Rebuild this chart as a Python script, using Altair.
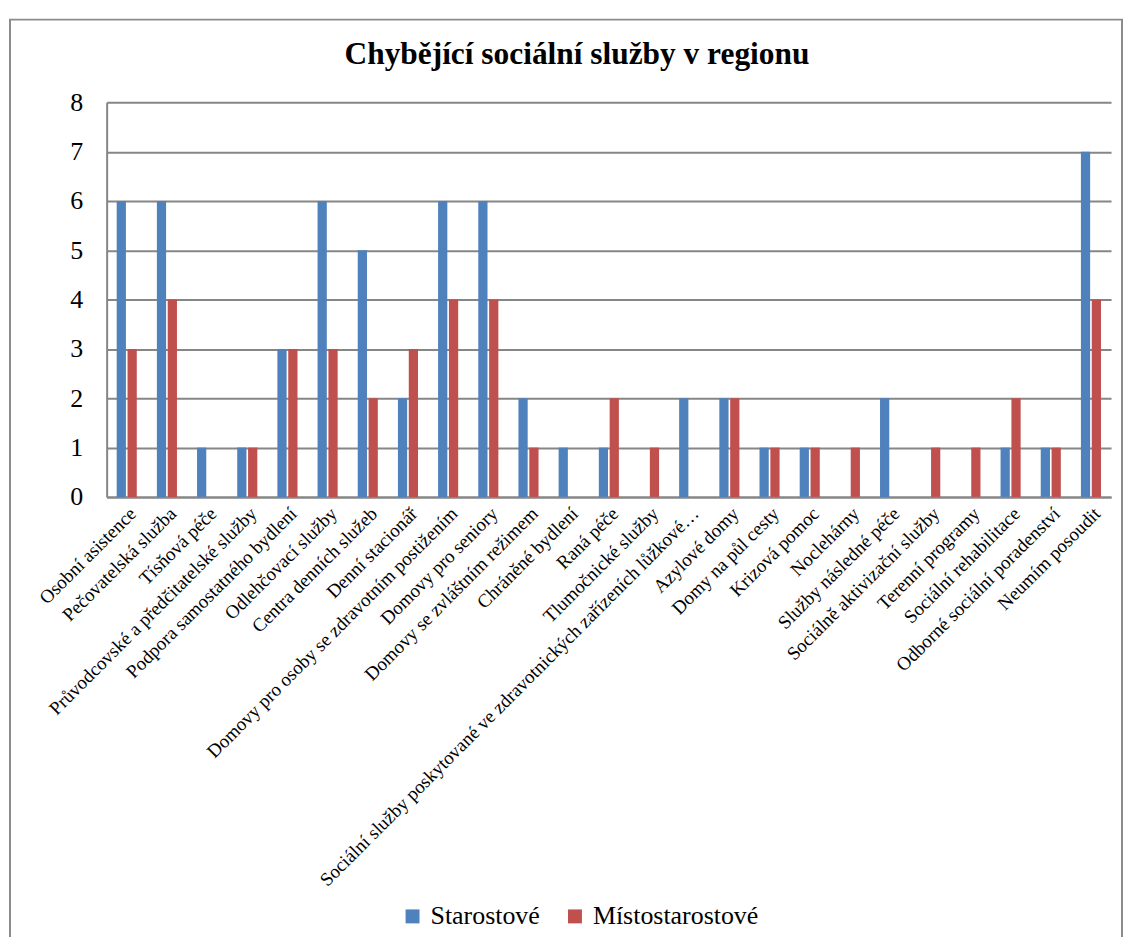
import altair as alt
import pandas as pd

SERIF = "Liberation Serif"
GRID = "#868686"

categories = [
    "Osobní asistence",
    "Pečovatelská služba",
    "Tísňová péče",
    "Průvodcovské a předčitatelské služby",
    "Podpora samostatného bydlení",
    "Odlehčovací služby",
    "Centra denních služeb",
    "Denní stacionář",
    "Domovy pro osoby se zdravotním postižením",
    "Domovy pro seniory",
    "Domovy se zvláštním režimem",
    "Chráněné bydlení",
    "Raná péče",
    "Tlumočnické služby",
    "Sociální služby poskytované ve zdravotnických zařízeních lůžkové…",
    "Azylové domy",
    "Domy na půl cesty",
    "Krizová pomoc",
    "Noclehárny",
    "Služby následné péče",
    "Sociálně aktivizační služby",
    "Terenní programy",
    "Sociální rehabilitace",
    "Odborné sociální poradenství",
    "Neumím posoudit",
]
starostove = [6, 6, 1, 1, 3, 6, 5, 2, 6, 6, 2, 1, 1, 0, 2, 2, 1, 1, 0, 2, 0, 0, 1, 1, 7]
mistostarostove = [3, 4, 0, 1, 3, 3, 2, 3, 4, 4, 1, 0, 2, 1, 0, 2, 1, 1, 1, 0, 1, 1, 2, 1, 4]
series = ["Starostové", "Místostarostové"]
colors = ["#4F81BD", "#C0504D"]
y_ticks = [0, 1, 2, 3, 4, 5, 6, 7, 8]
title_text = "Chybějící sociální služby v regionu"

rows = []
for c, a, b in zip(categories, starostove, mistostarostove):
    rows.append({"kategorie": c, "skupina": series[0], "hodnota": a})
    rows.append({"kategorie": c, "skupina": series[1], "hodnota": b})
df = pd.DataFrame(rows)

bars = alt.Chart(df).mark_bar().encode(
    x=alt.X(
        "kategorie:N",
        sort=categories,
        scale=alt.Scale(paddingInner=0.5, paddingOuter=0.25),
        axis=alt.Axis(
            title=None, labelAngle=-45, labelFontSize=19, labelFont=SERIF,
            labelColor="black", labelLimit=1000, ticks=False, tickSize=0,
            domainColor=GRID, domainWidth=2, labelPadding=7,
        ),
    ),
    xOffset=alt.XOffset("skupina:N", sort=series, scale=alt.Scale(paddingInner=0.15)),
    y=alt.Y(
        "hodnota:Q",
        scale=alt.Scale(domain=[0, 8]),
        axis=alt.Axis(
            title=None, values=y_ticks, labelFontSize=26, labelFont=SERIF,
            labelColor="black", ticks=False, tickSize=0, labelPadding=24,
            domainColor=GRID, domainWidth=2, gridColor=GRID, gridWidth=2,
            gridOpacity=1,
        ),
    ),
    color=alt.Color(
        "skupina:N",
        sort=series,
        scale=alt.Scale(domain=series, range=colors),
        legend=alt.Legend(
            orient="none", legendX=294, legendY=804, direction="horizontal",
            title=None, symbolType="square", symbolSize=196, symbolStrokeWidth=0,
            labelFontSize=26, labelFont=SERIF, labelColor="black",
            labelLimit=500, columnPadding=22, labelOffset=5,
        ),
    ),
)

border = alt.Chart(pd.DataFrame({"a": [0]})).mark_rect(
    filled=False, stroke="#8c8c8c", strokeWidth=2
).encode(
    x=alt.value(-97), x2=alt.value(1019), y=alt.value(-83), y2=alt.value(900)
)

title = alt.Chart(pd.DataFrame({"t": [title_text]})).mark_text(
    font=SERIF, fontSize=31.5, fontWeight="bold", color="black",
    align="center", baseline="alphabetic",
).encode(text="t:N", x=alt.value(472), y=alt.value(-38))

chart = alt.layer(border, bars, title).properties(
    width=1008,
    height=396,
    autosize=alt.AutoSizeParams(type="none"),
    padding={"left": 99, "top": 93, "right": 12, "bottom": 440},
).configure(
    font=SERIF
).configure_legend(
    labelFont=SERIF
).configure_view(strokeWidth=0)

chart.save("out.html", embed_options={"renderer": "svg", "actions": False})
